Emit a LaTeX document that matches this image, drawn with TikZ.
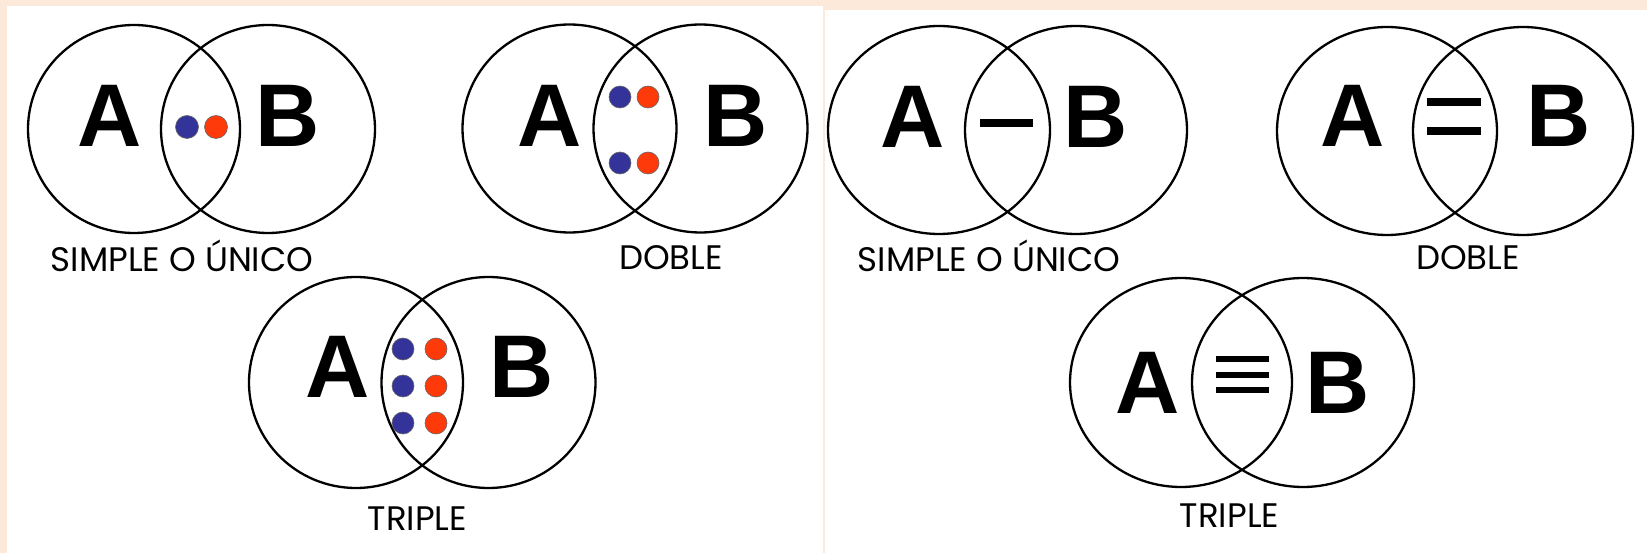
\documentclass[tikz,border=0pt]{standalone}
\usepackage{fontspec}
\newfontfamily\abfont{Liberation Sans}
\newfontfamily\lblfont{Poppins}
\definecolor{peach}{HTML}{FCE9DA}
\definecolor{dotblue}{HTML}{34339A}
\definecolor{dotred}{HTML}{FF3A0A}
\tikzset{
  ring/.style={draw=black, line width=2.3pt},
  letter/.style={anchor=base, inner sep=0pt, font=\abfont\bfseries\fontsize{89}{89}\selectfont},
  caption/.style={anchor=base, inner sep=0pt, font=\lblfont\fontsize{34}{34}\selectfont},
  bdot/.style={fill=dotblue, draw=black!60, line width=0.6pt},
  rdot/.style={fill=dotred, draw=black!60, line width=0.6pt},
  bar/.style={line width=7.5pt, draw=black}
}
\begin{document}
\begin{tikzpicture}[x=1pt,y=-1pt]
\useasboundingbox (0,0) rectangle (1647,553);
\fill[peach] (0,0) rectangle (1647,553);
\fill[white] (7,6) rectangle (823,553);
\fill[white] (825,10) rectangle (1647,553);

% ---------- Left panel: SIMPLE ----------
\draw[ring] (134,129) ellipse [x radius=106pt, y radius=104pt];
\draw[ring] (268,129) ellipse [x radius=107pt, y radius=104pt];
\node[letter] (l1a) at (110,147) {A};
\node[letter] (l1b) at (288,147) {B};
\fill[bdot] (187,127) circle [radius=11.5pt];
\fill[rdot] (216,127) circle [radius=11.5pt];
\node[caption] (l1c) at (182,272) {SIMPLE O ÚNICO};

% ---------- Left panel: DOBLE ----------
\draw[ring] (569.5,128.5) ellipse [x radius=107pt, y radius=104pt];
\draw[ring] (700.5,128.5) ellipse [x radius=107pt, y radius=104pt];
\node[letter] (l2a) at (550,147) {A};
\node[letter] (l2b) at (736,147) {B};
\fill[bdot] (620,97) circle [radius=11pt];
\fill[rdot] (648,97) circle [radius=11pt];
\fill[bdot] (620,163) circle [radius=11pt];
\fill[rdot] (648,163) circle [radius=11pt];
\node[caption] (l2c) at (671,270) {DOBLE};

% ---------- Left panel: TRIPLE ----------
\draw[ring] (356,382.5) ellipse [x radius=107pt, y radius=105.5pt];
\draw[ring] (488.5,382.5) ellipse [x radius=107pt, y radius=105.5pt];
\node[letter] (l3a) at (337.5,397) {A};
\node[letter] (l3b) at (521.5,397) {B};
\foreach \yy in {349,386,423}{
  \fill[bdot] (403,\yy) circle [radius=11pt];
  \fill[rdot] (436,\yy) circle [radius=11pt];
}
\node[caption] (l3c) at (417.5,530) {TRIPLE};

% ---------- Right panel: SIMPLE ----------
\draw[ring] (939,130) ellipse [x radius=111pt, y radius=104pt];
\draw[ring] (1076,130) ellipse [x radius=111pt, y radius=104pt];
\node[letter] (r1a) at (913,148) {A};
\node[letter] (r1b) at (1096,148) {B};
\draw[bar] (980,123) -- (1033,123);
\node[caption] (r1c) at (989,272) {SIMPLE O ÚNICO};

% ---------- Right panel: DOBLE ----------
\draw[ring] (1387,131) ellipse [x radius=110pt, y radius=104pt];
\draw[ring] (1523,131) ellipse [x radius=110pt, y radius=104pt];
\node[letter] (r2a) at (1353,147) {A};
\node[letter] (r2b) at (1559,147) {B};
\draw[bar] (1427,102) -- (1481,102);
\draw[bar] (1427,131) -- (1481,131);
\node[caption] (r2c) at (1468,270) {DOBLE};

% ---------- Right panel: TRIPLE ----------
\draw[ring] (1181,382.5) ellipse [x radius=111pt, y radius=104.5pt];
\draw[ring] (1303,382.5) ellipse [x radius=111pt, y radius=104.5pt];
\node[letter] (r3a) at (1148,413) {A};
\node[letter] (r3b) at (1338,413) {B};
\draw[bar, line width=6.5pt] (1216,359) -- (1269,359);
\draw[bar, line width=6.5pt] (1216,375) -- (1269,375);
\draw[bar, line width=6.5pt] (1216,390) -- (1269,390);
\node[caption] (r3c) at (1229.5,527) {TRIPLE};
\end{tikzpicture}
\end{document}
